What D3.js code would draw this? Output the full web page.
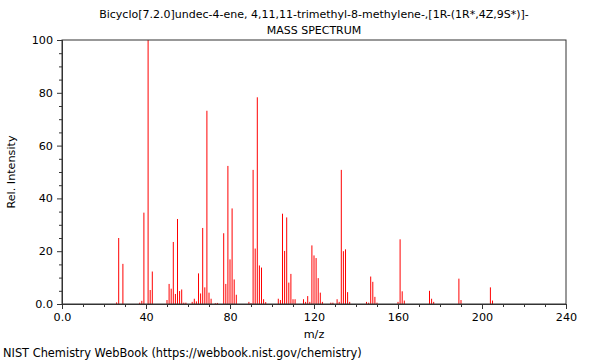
<!DOCTYPE html>
<html><head><meta charset="utf-8">
<script src="https://cdn.jsdelivr.net/npm/d3@7"></script>
<style>body{margin:0;background:#fff}svg{display:block;font-family:"DejaVu Sans",sans-serif}</style>
</head><body><svg id="c" width="600" height="360"></svg>
<script>
const titleLines = ["Bicyclo[7.2.0]undec-4-ene, 4,11,11-trimethyl-8-methylene-,[1R-(1R*,4Z,9S*)]-", "MASS SPECTRUM"];
const xLabel = "m/z";
const yLabel = "Rel. Intensity";
const footer = "NIST Chemistry WebBook (https://webbook.nist.gov/chemistry)";
const mz = [26,27,29,37,38,39,41,42,43,50,51,52,53,54,55,56,57,58,59,62,63,64,65,66,67,68,69,70,71,73,74,77,78,79,80,81,82,83,89,90,91,92,93,94,95,96,97,103,104,105,106,107,108,109,110,111,115,116,117,118,119,120,121,122,123,124,128,129,131,132,133,134,135,136,137,145,146,147,148,149,150,160,161,162,163,175,176,177,189,190,204,205];
const intensity = [0.6,25,15.2,0.5,1.2,34.6,100,5.3,12.3,1.5,7.6,5.8,23.5,3.8,32.2,4.9,5.5,0.5,0.5,0.8,2,1,11.6,4,28.8,6.3,73.2,4.3,2,0.3,0.4,26.8,7.6,52.3,16.9,36.2,9.3,3.5,0.8,0.3,50.8,21,78.3,14.6,13.8,1.8,0.7,2,1.5,34.2,20.1,32.8,8.1,11.4,1.8,1.8,1.8,0.8,3,0.8,22.2,18.4,17.4,9.8,4.3,0.8,0.5,0.5,1.8,0.8,50.8,20,20.7,4.5,0.8,0.8,0.5,10.4,8.4,2.7,0.5,0.8,24.5,4.8,1.3,5,2,0.8,9.6,1.5,6.3,1.3];
const xTicks = [0,40,80,120,160,200,240];
const xTickLabels = ["0.0","40","80","120","160","200","240"];
const yTicks = [0,20,40,60,80,100];
const yTickLabels = ["0.0","20","40","60","80","100"];

const svg = d3.select("#c");
const x = d3.scaleLinear().domain([0,240]).range([62,566]);
const y = d3.scaleLinear().domain([0,100]).range([304,40]);
const axisColor = "#333";

// bars
svg.append("g").selectAll("line").data(mz).join("line")
  .attr("x1", d => x(d)).attr("x2", d => x(d))
  .attr("y1", y(0)).attr("y2", (d,i) => y(intensity[i]))
  .attr("stroke", "#ff0000").attr("stroke-width", 1);

// frame
svg.append("rect").attr("x", x(0)).attr("y", y(100)).attr("width", x(240)-x(0)).attr("height", y(0)-y(100))
  .attr("fill","none").attr("stroke", axisColor).attr("stroke-width",1);

// x axis
const xMinor = d3.range(0,241,10).filter(v => v % 40 !== 0);
const gx = svg.append("g").attr("transform", `translate(0,${y(0)})`);
gx.call(d3.axisBottom(x).tickValues(xMinor).tickSize(3).tickFormat(""));
gx.append("g").call(d3.axisBottom(x).tickValues(xTicks).tickSize(5).tickPadding(4).tickFormat((d,i)=>xTickLabels[i]));
gx.selectAll(".domain").attr("stroke", axisColor);
gx.selectAll(".tick line").attr("stroke", axisColor);
gx.selectAll("text").attr("font-size", 11.2).attr("fill","#000").attr("font-family","DejaVu Sans, sans-serif");

// y axis
const yMinor = d3.range(0,101,5).filter(v => v % 20 !== 0);
const gy = svg.append("g").attr("transform", `translate(${x(0)},0)`);
gy.call(d3.axisLeft(y).tickValues(yMinor).tickSize(3).tickFormat(""));
gy.append("g").call(d3.axisLeft(y).tickValues(yTicks).tickSize(5).tickPadding(4).tickFormat((d,i)=>yTickLabels[i]));
gy.selectAll(".domain").attr("stroke", axisColor);
gy.selectAll(".tick line").attr("stroke", axisColor);
gy.selectAll("text").attr("font-size", 11.2).attr("fill","#000").attr("font-family","DejaVu Sans, sans-serif");

// texts
svg.append("text").attr("x", 314).attr("y", 18).attr("text-anchor","middle").attr("font-size",11).text(titleLines[0]);
svg.append("text").attr("x", 314).attr("y", 34).attr("text-anchor","middle").attr("font-size",11).text(titleLines[1]);
svg.append("text").attr("x", 314).attr("y", 338).attr("text-anchor","middle").attr("font-size",11.2).text(xLabel);
svg.append("text").attr("transform","translate(15,172) rotate(-90)").attr("text-anchor","middle").attr("font-size",11.2).text(yLabel);
svg.append("text").attr("x", 3).attr("y", 357).attr("font-size",11.4).text(footer);
</script></body></html>
